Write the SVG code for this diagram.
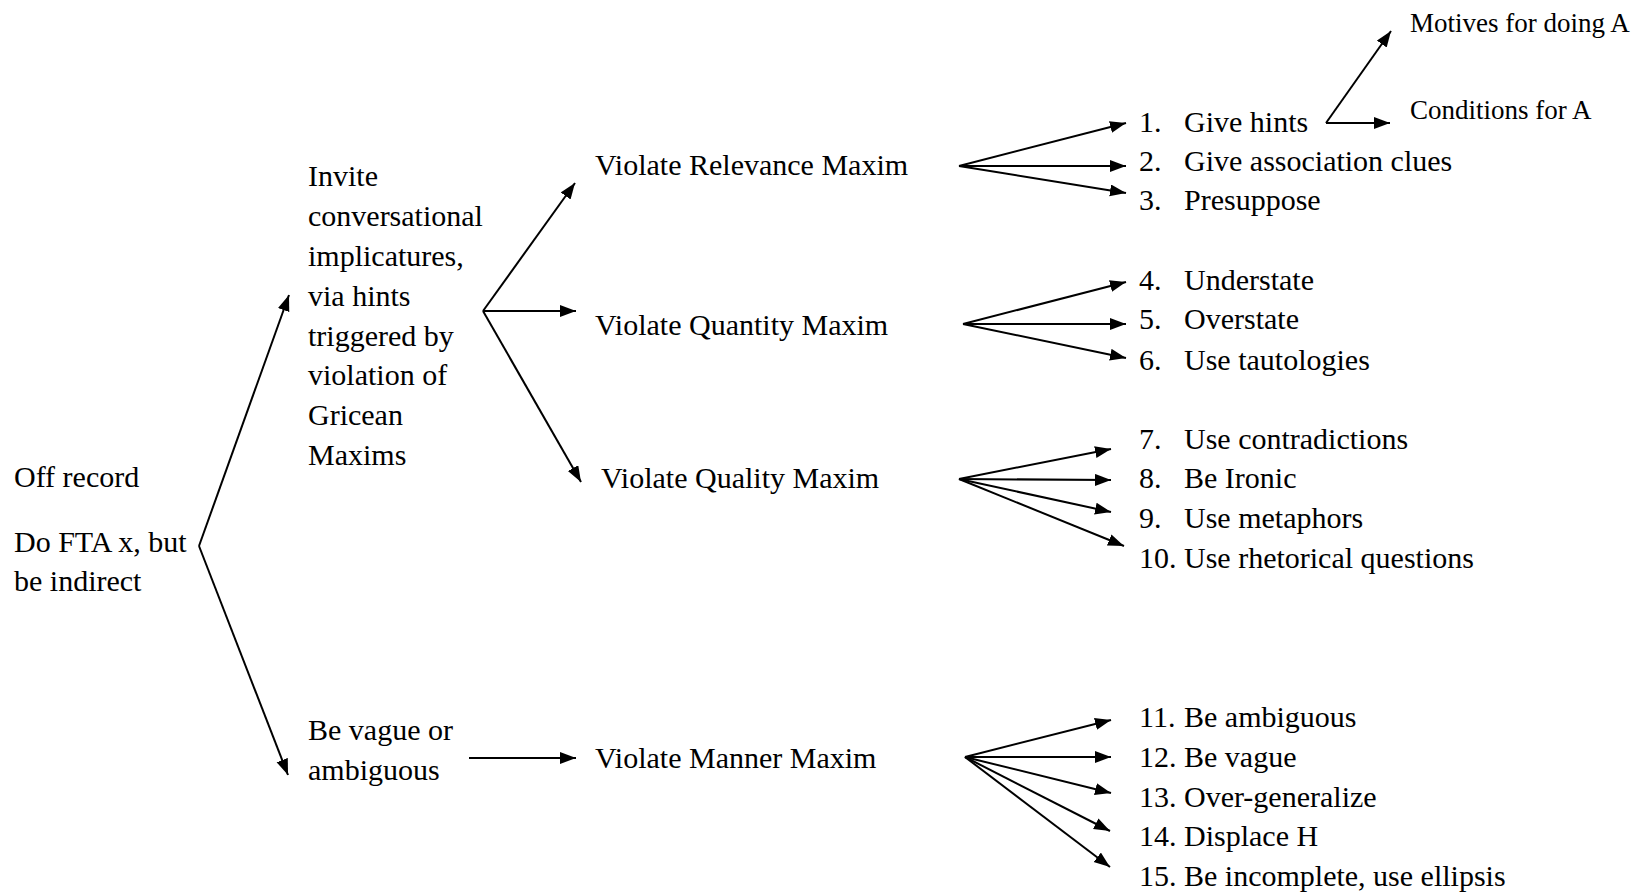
<svg xmlns="http://www.w3.org/2000/svg" width="1644" height="894" viewBox="0 0 1644 894">
<style>
text{font-family:"Liberation Serif","Times New Roman",serif;font-size:30px;fill:#000}
.sm{font-size:27px}
.c line{stroke:#000;stroke-width:2;marker-end:url(#ah)}
</style>
<defs>
<marker id="ah" markerUnits="userSpaceOnUse" markerWidth="17" markerHeight="13" refX="16" refY="6" orient="auto">
<path d="M0,0 L16,6 L0,12 z" fill="#000"/>
</marker>
</defs>
<rect width="1644" height="894" fill="#fff"/>
<g class="c" id="connectors">
<line x1="199" y1="546" x2="289" y2="295"/>
<line x1="199" y1="546" x2="288" y2="775"/>
<line x1="483" y1="311" x2="575" y2="183"/>
<line x1="483" y1="311" x2="576" y2="311"/>
<line x1="483" y1="311" x2="581" y2="482"/>
<line x1="469" y1="758" x2="576" y2="758"/>
<line x1="959" y1="166" x2="1126" y2="123"/>
<line x1="959" y1="166" x2="1126" y2="166"/>
<line x1="959" y1="166" x2="1126" y2="193"/>
<line x1="963" y1="324" x2="1126" y2="282"/>
<line x1="963" y1="324" x2="1126" y2="324"/>
<line x1="963" y1="324" x2="1126" y2="358"/>
<line x1="959" y1="479" x2="1111" y2="449"/>
<line x1="959" y1="479" x2="1111" y2="480"/>
<line x1="959" y1="479" x2="1111" y2="512"/>
<line x1="959" y1="479" x2="1124" y2="546"/>
<line x1="965" y1="757" x2="1111" y2="720"/>
<line x1="965" y1="757" x2="1111" y2="757"/>
<line x1="965" y1="757" x2="1111" y2="793"/>
<line x1="965" y1="757" x2="1110" y2="831"/>
<line x1="965" y1="757" x2="1110" y2="867"/>
<line x1="1326" y1="123" x2="1391" y2="31"/>
<line x1="1326" y1="123" x2="1390" y2="123"/>
</g>
<g id="off-record"><text x="14" y="487">Off record</text><text x="14" y="552">Do FTA x, but</text><text x="14" y="591">be indirect</text></g>
<g id="invite"><text x="308" y="186">Invite</text><text x="308" y="226">conversational</text><text x="308" y="266">implicatures,</text><text x="308" y="306">via hints</text><text x="308" y="346">triggered by</text><text x="308" y="385">violation of</text><text x="308" y="425">Gricean</text><text x="308" y="465">Maxims</text></g>
<g id="vague"><text x="308" y="740">Be vague or</text><text x="308" y="780">ambiguous</text></g>
<g id="relevance"><text x="595" y="175">Violate Relevance Maxim</text></g>
<g id="quantity"><text x="595" y="335">Violate Quantity Maxim</text></g>
<g id="quality"><text x="601" y="488">Violate Quality Maxim</text></g>
<g id="manner"><text x="595" y="768">Violate Manner Maxim</text></g>
<g id="item1"><text x="1139" y="132">1.<tspan x="1184">Give hints</tspan></text></g>
<g id="item2"><text x="1139" y="171">2.<tspan x="1184">Give association clues</tspan></text></g>
<g id="item3"><text x="1139" y="210">3.<tspan x="1184">Presuppose</tspan></text></g>
<g id="item4"><text x="1139" y="290">4.<tspan x="1184">Understate</tspan></text></g>
<g id="item5"><text x="1139" y="329">5.<tspan x="1184">Overstate</tspan></text></g>
<g id="item6"><text x="1139" y="370">6.<tspan x="1184">Use tautologies</tspan></text></g>
<g id="item7"><text x="1139" y="449">7.<tspan x="1184">Use contradictions</tspan></text></g>
<g id="item8"><text x="1139" y="488">8.<tspan x="1184">Be Ironic</tspan></text></g>
<g id="item9"><text x="1139" y="528">9.<tspan x="1184">Use metaphors</tspan></text></g>
<g id="item10"><text x="1139" y="568">10.<tspan x="1184">Use rhetorical questions</tspan></text></g>
<g id="item11"><text x="1139" y="727">11.<tspan x="1184">Be ambiguous</tspan></text></g>
<g id="item12"><text x="1139" y="767">12.<tspan x="1184">Be vague</tspan></text></g>
<g id="item13"><text x="1139" y="807">13.<tspan x="1184">Over-generalize</tspan></text></g>
<g id="item14"><text x="1139" y="846">14.<tspan x="1184">Displace H</tspan></text></g>
<g id="item15"><text x="1139" y="886">15.<tspan x="1184">Be incomplete, use ellipsis</tspan></text></g>
<g id="motives"><text class="sm" x="1410" y="32">Motives for doing A</text></g>
<g id="conditions"><text class="sm" x="1410" y="119">Conditions for A</text></g>
</svg>
